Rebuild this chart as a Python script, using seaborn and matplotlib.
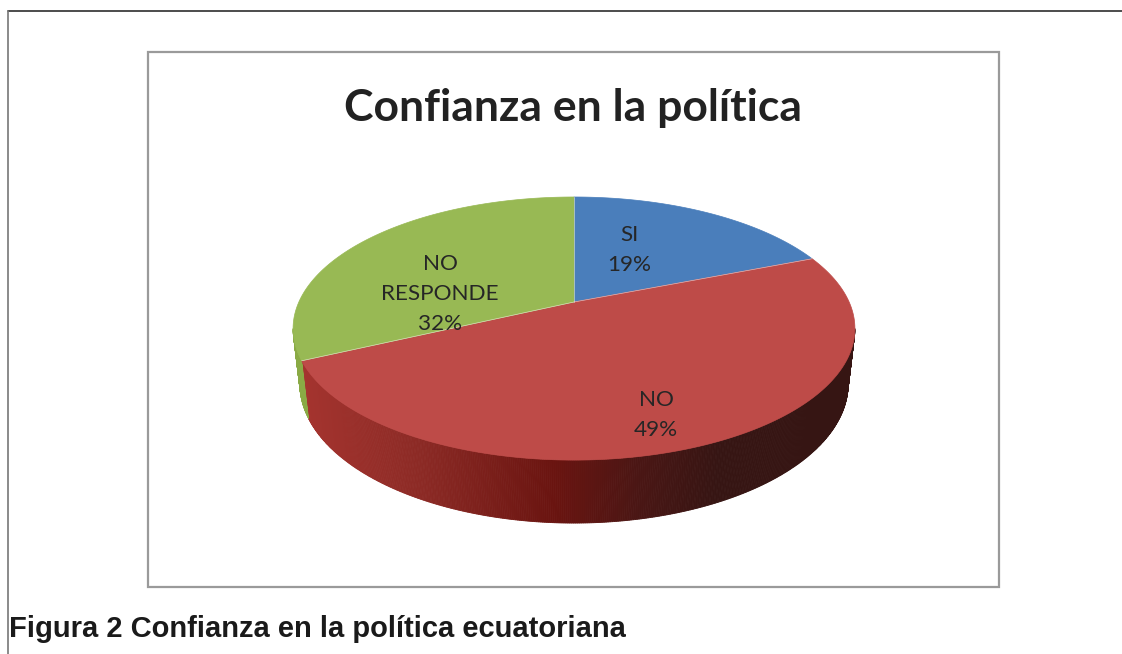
import numpy as np
import matplotlib
matplotlib.use("Agg")
import matplotlib.pyplot as plt
from matplotlib.patches import Polygon
from matplotlib.colors import to_rgb
import seaborn as sns

# ---- data -------------------------------------------------------------
categories = ["SI", "NO", "NO\nRESPONDE"]
percentages = [19, 49, 32]
chart_title = "Confianza en la política"
caption = "Figura 2 Confianza en la política ecuatoriana"

# ---- styles -----------------------------------------------------------
top_colors = ["#4A7EBB", "#BE4B48", "#98B954"]
# side wall shading stops (left -> right across the front of the disc)
side_colors = [
    ["#3E6A9E", "#345A87", "#22406A", "#1A2F4D", "#132238"],
    ["#A5342F", "#8C2A25", "#6A1410", "#4A1614", "#361513"],
    ["#8AAA45", "#76933A", "#5A7428", "#42551D", "#303E15"],
]
side_pos = [-0.975, -0.55, -0.07, 0.235, 0.52]
label_xy = [(629, 250), (656, 415), (440, 294)]

sns.set_theme(style="white")
plt.rcParams["font.family"] = ["Lato", "DejaVu Sans"]

W, H = 1122, 654
fig = plt.figure(figsize=(W / 100, H / 100), dpi=100)
ax = fig.add_axes([0, 0, 1, 1])
ax.set_xlim(0, W)
ax.set_ylim(H, 0)
ax.axis("off")

# ---- perspective camera for a flat disc --------------------------------
alpha = np.radians(27.3)     # viewing elevation
dist = 4.405                 # camera distance (disc radius = 1)
focal = 1212.0               # pixels
thick = 0.227                # disc thickness
cx, cy = 574.0, 302.0        # screen position of the disc centre


def project(phi_deg, r=1.0, z=0.0):
    phi = np.radians(np.asarray(phi_deg, dtype=float))
    X = r * np.cos(phi)
    Y = r * np.sin(phi)
    yc = Y * np.sin(alpha) + z * np.cos(alpha)
    zc = dist + Y * np.cos(alpha) - z * np.sin(alpha)
    return cx + focal * X / zc, cy - focal * yc / zc


def side_shade(idx, u):
    stops = np.array([to_rgb(c) for c in side_colors[idx]])
    t = np.clip(u / 281.0, side_pos[0], side_pos[-1])
    return tuple(np.interp(t, side_pos, stops[:, k]) for k in range(3))


# slice angle ranges: start at 12 o'clock, run clockwise
fractions = np.array(percentages, dtype=float) / np.sum(percentages)
starts = 90 - 360 * np.concatenate([[0], np.cumsum(fractions)[:-1]])
ends = starts - 360 * fractions

# front wall is visible between the two silhouette angles
k = np.cos(alpha) / dist
sil = np.degrees(np.arcsin(k))
vis_lo, vis_hi = -180 + sil, -sil

for i in range(len(percentages)):
    for shift in (0, 360, -360):
        a0 = max(ends[i] + shift, vis_lo)
        a1 = min(starts[i] + shift, vis_hi)
        if a1 <= a0:
            continue
        n = max(int((a1 - a0) * 3), 2)
        phis = np.linspace(a0, a1, n + 1)
        for p0, p1 in zip(phis[:-1], phis[1:]):
            tx, ty = project([p0, p1])
            bx, by = project([p1, p0], z=-thick)
            col = side_shade(i, (tx.mean() - cx))
            ax.add_patch(Polygon(np.column_stack([np.r_[tx, bx], np.r_[ty, by]]),
                                 closed=True, facecolor=col, edgecolor=col,
                                 lw=0.6, zorder=2))

for i in range(len(percentages)):
    phis = np.linspace(starts[i], ends[i], 200)
    px, py = project(phis)
    pts = np.column_stack([np.r_[cx, px], np.r_[cy, py]])
    ax.add_patch(Polygon(pts, closed=True, facecolor=top_colors[i],
                         edgecolor=top_colors[i], lw=0.5, zorder=3))
# thin light seams between the slices on the top face
for a in starts:
    ex, ey = project([a])
    ax.plot([cx, ex[0]], [cy, ey[0]], color="white", lw=0.5, alpha=0.6, zorder=4)

for i, (lx, ly) in enumerate(label_xy):
    ax.text(lx, ly, f"{categories[i]}\n{percentages[i]}%", ha="center", va="center",
            fontsize=16.2, color="#262626", linespacing=1.6, zorder=5)

# chart frame and title
ax.add_patch(plt.Rectangle((148, 52), 851, 535, fill=False, edgecolor="#9a9a9a",
                           lw=1.6, zorder=1))
ax.text(573.5, 121, chart_title, ha="center", va="baseline", fontsize=32,
        fontweight="bold", color="#222222", zorder=5)

# page rules and figure caption
ax.plot([8, W], [11, 11], color="#2e2e2e", lw=1.2, zorder=1)
ax.plot([8, 8], [11, H], color="#777777", lw=1.2, zorder=1)
ax.text(9, 637, caption, ha="left", va="baseline", fontsize=21, fontweight="bold",
        color="#1a1a1a", family=["Liberation Sans", "DejaVu Sans"], zorder=5)

fig.savefig("out.png", dpi=100)
